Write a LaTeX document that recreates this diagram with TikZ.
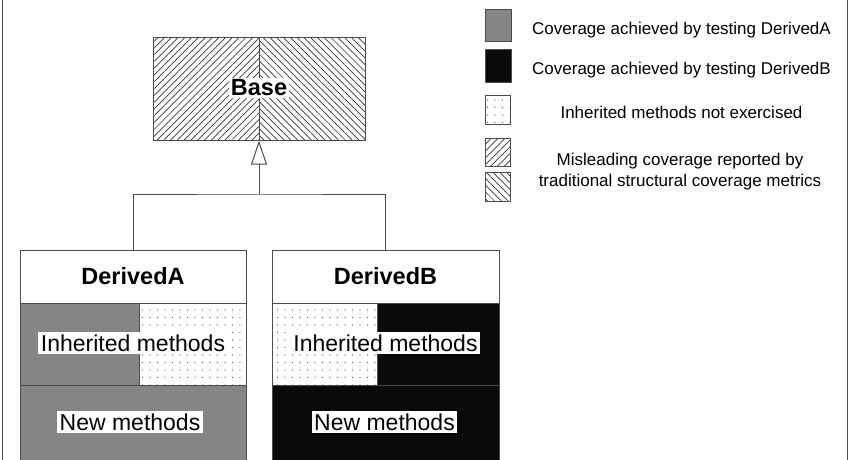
\documentclass[tikz,border=0pt]{standalone}
\usepackage{fontspec}
\setmainfont{Liberation Sans}
\usepackage{tikz}
\usetikzlibrary{arrows.meta}
\usetikzlibrary{patterns.meta}
\definecolor{covA}{gray}{0.52}
\definecolor{covB}{gray}{0.04}
\definecolor{edge}{gray}{0.3}
\tikzstyle{part}=[rectangle,draw=edge,line width=1pt,inner sep=0pt]
\tikzstyle{hatchR}=[part,pattern={Lines[angle=45,distance=4.8pt,line width=0.7pt]},pattern color=black!80]
\tikzstyle{hatchL}=[part,pattern={Lines[angle=-45,distance=4.8pt,line width=0.7pt]},pattern color=black!80]
\tikzstyle{dotted}=[part,pattern={Dots[distance=7.5pt,radius=0.55pt]},pattern color=black!70]
\tikzstyle{tested}=[part,fill=covA]
\tikzstyle{testedB}=[part,fill=covB]
\tikzstyle{tag}=[fill=white,inner sep=2.5pt,font=\fontsize{23}{26}\selectfont]
\tikzstyle{title}=[font=\bfseries\fontsize{23.5}{26}\selectfont]
\tikzstyle{key}=[font=\fontsize{17}{21}\selectfont,align=center]
\tikzstyle{inherit}=[-{Triangle[open,length=24pt,width=16pt]},line width=1pt,draw=edge]
\tikzset{every picture/.style={
    line width=1pt
  }
}
\begin{document}
\begin{tikzpicture}[x=1pt,y=-1pt]
      \clip (0,0) rectangle (851,460);
      \useasboundingbox (0,0) rectangle (851,460);
      \draw[edge,line width=1.5pt] (2.5,0)--(2.5,460);
      \draw[edge,line width=1.5pt] (847.5,0)--(847.5,460);
      % base class
      \node[hatchR, minimum width=106pt, minimum height=102pt] at (206,89) (baseL) {};
      \node[hatchL, minimum width=106pt, minimum height=102pt] at (312,89) (baseR) {};
      \node[part, minimum width=212pt, minimum height=102pt] at (259,89) (base) {};
      \node[fill=white,inner sep=2pt,title] at (259,88) (basename) {Base};
      % DerivedA
      \node[part, fill=white, minimum width=226pt, minimum height=53pt] at (133,276.5) (dA) {};
      \node[title] at (133,276.5) (dAname) {DerivedA};
      \node[tested, minimum width=119pt, minimum height=82pt] at (79.5,344) (dAinh) {};
      \node[dotted, minimum width=107pt, minimum height=82pt] at (192.5,344) (dAskip) {};
      \node[tag] at (133,343) (dAinhtag) {Inherited methods};
      \node[tested, minimum width=226pt, minimum height=90pt] at (133,430) (dAnew) {};
      \node[tag] at (130,422) (dAnewtag) {New methods};
      % DerivedB
      \node[part, fill=white, minimum width=227pt, minimum height=53pt] at (385.5,276.5) (dB) {};
      \node[title] at (385.5,276.5) (dBname) {DerivedB};
      \node[dotted, minimum width=105pt, minimum height=82pt] at (324.5,344) (dBskip) {};
      \node[testedB, minimum width=122pt, minimum height=82pt] at (438,344) (dBinh) {};
      \node[tag] at (385.5,343) (dBinhtag) {Inherited methods};
      \node[testedB, minimum width=227pt, minimum height=90pt] at (385.5,430) (dBnew) {};
      \node[tag] at (384.5,422) (dBnewtag) {New methods};
      % generalisation
      \coordinate (join) at (259,194);
      \draw[edge] (dA.north) |- (join) -| (dB.north);
      \draw[inherit] (join) -- (base.south);
      % legend
      \node[tested, minimum width=26pt, minimum height=32pt] at (498.5,26) (keyA) {};
      \node[testedB, minimum width=26pt, minimum height=32pt] at (498.5,66) (keyB) {};
      \node[dotted, minimum width=25pt, minimum height=29pt] at (497.5,109.5) (keyC) {};
      \node[hatchR, minimum width=25pt, minimum height=28pt] at (497.5,152) (keyD) {};
      \node[hatchL, minimum width=25pt, minimum height=29pt] at (497.5,186.5) (keyE) {};
      \node[key] at (681.5,30) (keyAtext) {Coverage achieved by testing DerivedA};
      \node[key] at (681.5,70) (keyBtext) {Coverage achieved by testing DerivedB};
      \node[key] at (681.5,112) (keyCtext) {Inherited methods not exercised};
      \node[key] at (680,172) (keyDtext) {Misleading coverage reported by\\traditional structural coverage metrics};
    \end{tikzpicture}
\end{document}
